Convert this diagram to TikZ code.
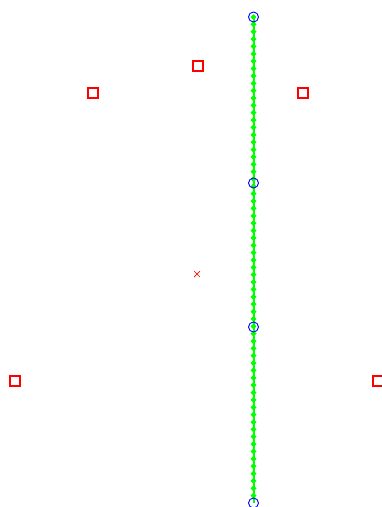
\documentclass[tikz,border=0pt]{standalone}
\usepackage{tikz}
\usetikzlibrary{calc}

\tikzset{
	boxmark/.style={draw=red, line width=1.1pt},
	ringmark/.style={draw=blue, line width=0.9pt},
	pathline/.style={draw=green, line width=2pt}
}

\begin{document}
\begin{tikzpicture}[x=1pt, y=-1pt]
		%%%%% START %%%%%
		
		\useasboundingbox (0, 0) rectangle (382, 507);
		
		% red squares
		\draw[boxmark] (193, 61) rectangle (203, 71);
		\draw[boxmark] (88, 88) rectangle (98, 98);
		\draw[boxmark] (298, 88) rectangle (308, 98);
		\draw[boxmark] (10, 376) rectangle (20, 386);
		\draw[boxmark] (373, 376) rectangle (383, 386);
		
		% red cross
		\draw[red, line width=0.7pt] (194, 271) -- (200, 277);
		\draw[red, line width=0.7pt] (194, 277) -- (200, 271);
		
		% green line with diamonds
		\draw[pathline] (253.5, 17) -- (253.5, 503);
		\foreach \i in {0,...,65}
			\fill[green] ($(253.5, 17)+(0, \i*7.3636)$) +(0, -3) -- +(3, 0) -- +(0, 3) -- +(-3, 0) -- cycle;
		
		% blue rings
		\draw[ringmark] (253.5, 17) circle (5pt);
		\draw[ringmark] (253.5, 183) circle (5pt);
		\draw[ringmark] (253.5, 327) circle (5pt);
		\draw[ringmark] (253.5, 503) circle (5pt);
		
		%%%%% END %%%%%
	\end{tikzpicture}
\end{document}
